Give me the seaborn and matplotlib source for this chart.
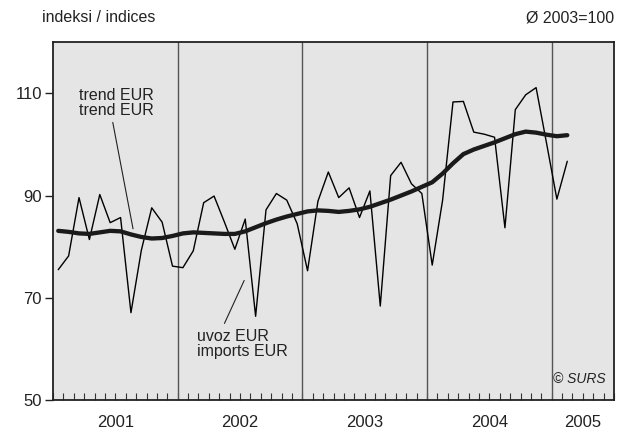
import numpy as np
import pandas as pd
import matplotlib
matplotlib.use("Agg")
import matplotlib.pyplot as plt
import seaborn as sns

# monthly indices, Jan 2001 - Feb 2005
years = ["2001", "2002", "2003", "2004", "2005"]
months_per_year = [12, 12, 12, 12, 6]

imports_eur = [
    75.5, 78.2, 89.6, 81.4, 90.2, 84.7, 85.7, 67.1, 79.3, 87.6, 84.8, 76.2,
    75.9, 79.2, 88.6, 89.9, 84.8, 79.5, 85.4, 66.4, 87.2, 90.4, 89.1, 84.5,
    75.3, 88.9, 94.6, 89.6, 91.5, 85.7, 90.9, 68.4, 93.9, 96.5, 92.3, 90.4,
    76.4, 89.1, 108.3, 108.4, 102.4, 102.0, 101.4, 83.7, 106.8, 109.7, 111.1, 100.3,
    89.3, 96.7,
]
trend_eur = [
    83.1, 82.9, 82.6, 82.5, 82.8, 83.1, 83.0, 82.4, 81.9, 81.6, 81.7, 82.1,
    82.6, 82.8, 82.7, 82.6, 82.5, 82.5, 83.0, 83.8, 84.6, 85.3, 85.9, 86.4,
    86.9, 87.1, 87.0, 86.8, 87.0, 87.3, 87.8, 88.5, 89.2, 90.0, 90.8, 91.7,
    92.6, 94.3, 96.3, 98.1, 99.0, 99.7, 100.4, 101.2, 102.0, 102.5, 102.3, 101.9,
    101.6, 101.8,
]
y_ticks = [50, 70, 90, 110]

df = pd.DataFrame({
    "month": np.arange(len(imports_eur)) + 0.5,
    "imports": imports_eur,
    "trend": trend_eur,
})

sns.set_style("white")
plt.rcParams["font.family"] = ["Liberation Sans", "DejaVu Sans"]

fig = plt.figure(figsize=(6.24, 4.34), dpi=100)
ax = fig.add_axes([0.085, 0.078, 0.899, 0.825])
ax.set_facecolor("#e5e5e5")

total = sum(months_per_year)
ax.set_xlim(0, total)
ax.set_ylim(50, 120)

# year dividers
edges = np.cumsum([0] + months_per_year)
for e in edges[1:-1]:
    ax.axvline(e, color="#555555", lw=1.0, zorder=1)

sns.lineplot(data=df, x="month", y="imports", ax=ax, color="black", lw=1.0, zorder=3)
sns.lineplot(data=df, x="month", y="trend", ax=ax, color="#1a1a1a", lw=3.1,
             solid_capstyle="round", zorder=4)

for s in ax.spines.values():
    s.set_color("#222222")
    s.set_linewidth(1.3)

ax.set_xlabel("")
ax.set_ylabel("")
ax.set_yticks(y_ticks)
ax.set_yticklabels([str(v) for v in y_ticks], fontsize=12, color="#222222")
ax.tick_params(axis="y", direction="out", length=6, width=1, color="#222222", pad=2, left=True)

# month ticks inside along the bottom
ax.set_xticks(np.arange(0, total + 1))
ax.set_xticklabels([])
ax.tick_params(axis="x", direction="in", length=5, width=0.8, color="#333333", bottom=True)

# year labels under each panel
for i, y in enumerate(years):
    mid = (edges[i] + edges[i + 1]) / 2
    ax.text(mid, -0.042, y, transform=ax.get_xaxis_transform(), ha="center", va="top",
            fontsize=12, color="#222222")

# annotations
ax.text(6.06, 108.0, "trend EUR\ntrend EUR", ha="center", va="center", fontsize=11.5,
        linespacing=1.0, color="#222222")
ax.plot([5.75, 7.7], [104.3, 83.5], color="#222222", lw=0.8)

ax.text(13.9, 61.0, "uvoz EUR\nimports EUR", ha="left", va="center", fontsize=11.5,
        linespacing=1.0, color="#222222")
ax.plot([16.5, 18.4], [65.0, 73.4], color="#222222", lw=0.8)

ax.text(0.985, 0.04, "© SURS", transform=ax.transAxes, ha="right", va="bottom",
        fontsize=10, style="italic", color="#222222")

fig.text(42 / 624, 1 - 18 / 434, "indeksi / indices", ha="left", va="center",
         fontsize=11.5, color="#222222")
fig.text(614 / 624, 1 - 18 / 434, "Ø 2003=100", ha="right", va="center",
         fontsize=11.5, color="#222222")

fig.savefig("out.png", dpi=100, facecolor="white")
